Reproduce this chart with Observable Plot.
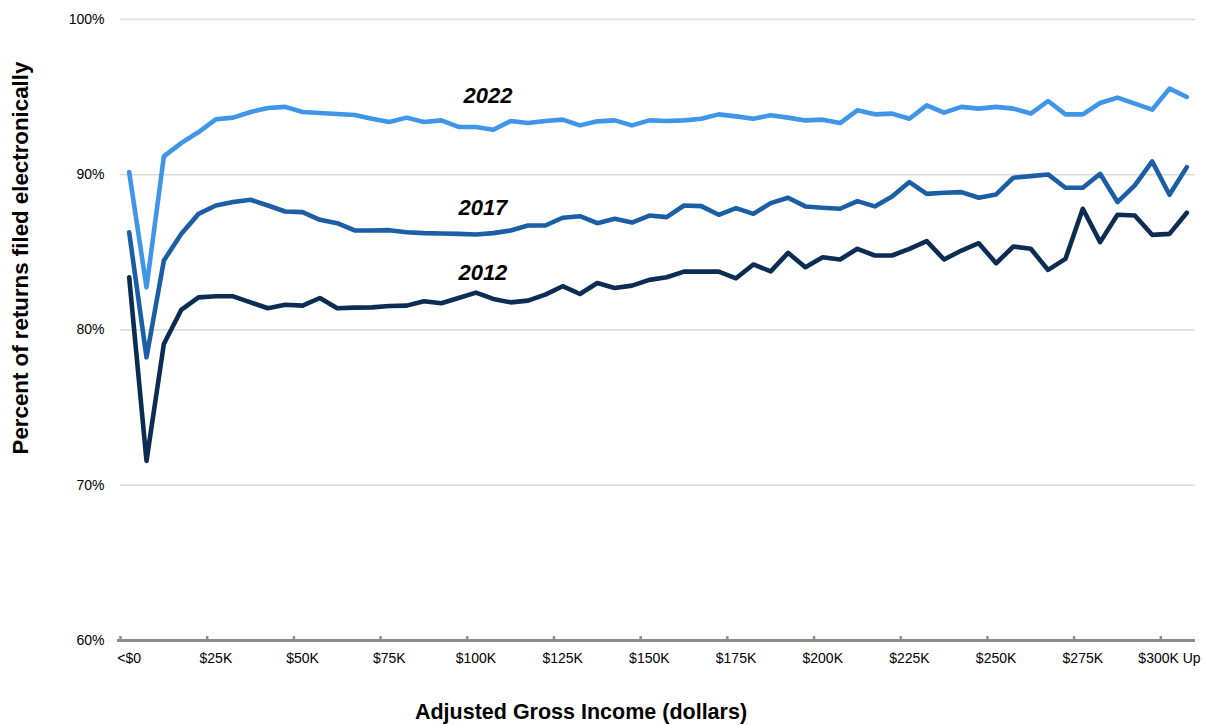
<!DOCTYPE html>
<html>
<head>
<meta charset="utf-8">
<script src="https://cdn.jsdelivr.net/npm/d3@7"></script>
<script src="https://cdn.jsdelivr.net/npm/@observablehq/plot@0.6"></script>
<style>
  html, body { margin: 0; padding: 0; background: #fff; }
  #chart svg { display: block; }
</style>
</head>
<body>
<div id="chart"></div>
<script>
// Income categories: 62 buckets (index 0 = "<$0", last = "$300K Up" region)
const categoryIndex = d3.range(62);
const tickIndex = [0, 5, 10, 15, 20, 25, 30, 35, 40, 45, 50, 55, 60];
const tickLabels = ["<$0", "$25K", "$50K", "$75K", "$100K", "$125K", "$150K", "$175K", "$200K", "$225K", "$250K", "$275K", "$300K Up"];
const yTicks = [60, 70, 80, 90, 100];

const years = ["2012", "2017", "2022"];
const colors = ["#0b2c53", "#1b5ea6", "#3f95e8"];

const y2012 = [83.4, 71.57, 79.1, 81.29, 82.1, 82.17, 82.17, 81.78, 81.4, 81.63, 81.57,
  82.06, 81.4, 81.44, 81.46, 81.55, 81.57, 81.85, 81.72, 82.06, 82.41,
  82.0, 81.78, 81.89, 82.28, 82.82, 82.32, 83.03, 82.71, 82.86, 83.23,
  83.4, 83.76, 83.76, 83.76, 83.33, 84.22, 83.78, 84.97, 84.04, 84.69,
  84.54, 85.23, 84.8, 84.8, 85.23, 85.72, 84.54, 85.12, 85.59, 84.3,
  85.38, 85.23, 83.87, 84.58, 87.81, 85.66, 87.42, 87.38, 86.13, 86.19, 87.55];

const y2017 = [86.3, 78.24, 84.47, 86.19, 87.48, 88.02, 88.24, 88.39, 88.02, 87.63, 87.59,
  87.1, 86.88, 86.41, 86.41, 86.43, 86.3, 86.24, 86.22, 86.19, 86.15,
  86.24, 86.41, 86.73, 86.73, 87.23, 87.33, 86.88, 87.16, 86.92, 87.37,
  87.27, 88.02, 87.98, 87.42, 87.85, 87.48, 88.17, 88.52, 87.96, 87.87,
  87.81, 88.3, 87.96, 88.6, 89.53, 88.77, 88.84, 88.88, 88.52, 88.73,
  89.81, 89.91, 90.02, 89.16, 89.16, 90.06, 88.24, 89.31, 90.86, 88.71, 90.49];

const y2022 = [90.17, 82.75, 91.18, 92.04, 92.75, 93.57, 93.68, 94.04, 94.3, 94.37, 94.04,
  93.98, 93.91, 93.85, 93.61, 93.4, 93.68, 93.4, 93.5, 93.08, 93.08,
  92.9, 93.46, 93.33, 93.46, 93.55, 93.18, 93.44, 93.5, 93.18, 93.5,
  93.46, 93.5, 93.61, 93.89, 93.76, 93.61, 93.83, 93.68, 93.5, 93.55,
  93.33, 94.15, 93.89, 93.94, 93.61, 94.47, 94.0, 94.37, 94.26, 94.37,
  94.26, 93.94, 94.75, 93.89, 93.89, 94.62, 94.97, 94.58, 94.19, 95.55, 95.01];

// Series label anchor positions (category index, percent)
const labelYears = ["2022", "2017", "2012"];
const labelIndex = [20.7, 20.4, 20.4];
const labelValue = [95.1, 87.85, 83.65];

const seriesValues = {"2012": y2012, "2017": y2017, "2022": y2022};
const rows = years.flatMap(year => categoryIndex.map(i => ({year, i, v: seriesValues[year][i]})));
const labels = labelYears.map((year, k) => ({year, i: labelIndex[k], v: labelValue[k]}));
const tickEdges = tickIndex.map(i => i - 0.5);

const chart = Plot.plot({
  width: 1207,
  height: 725,
  marginTop: 19,
  marginBottom: 85,
  marginLeft: 120,
  marginRight: 12,
  style: {fontFamily: "'Liberation Sans', Arial, sans-serif", fontSize: "14px", color: "#000", background: "#fff"},
  x: {domain: [-0.5, 61.5], ticks: tickIndex, tickFormat: d => tickLabels[tickIndex.indexOf(d)], tickSize: 0, tickPadding: 13, label: null},
  y: {domain: [60, 100], ticks: yTicks, tickFormat: d => d + "%", tickSize: 0, tickPadding: 16, label: null},
  color: {domain: years, range: colors},
  marks: [
    Plot.ruleY(yTicks.slice(1), {stroke: "#d9d9d9", strokeWidth: 1.3}),
    Plot.line(rows, {x: "i", y: "v", z: "year", stroke: "year", strokeWidth: 4.6}),
    Plot.ruleY([60], {stroke: "#8c8c8c", strokeWidth: 3, insetLeft: -3}),
    Plot.ruleX(tickEdges, {y1: 60, y2: 60.25, stroke: "#8c8c8c", strokeWidth: 2.5}),
    Plot.text(labels, {x: "i", y: "v", text: "year", fontWeight: "bold", fontStyle: "italic", fontSize: 22, fill: "#000"})
  ]
});

document.getElementById("chart").appendChild(chart);

const svg = d3.select(chart);
svg.append("text")
  .attr("transform", "translate(28,258) rotate(-90)")
  .attr("text-anchor", "middle")
  .attr("font-family", "'Liberation Sans', Arial, sans-serif")
  .attr("font-weight", "bold")
  .attr("font-size", 22.3)
  .attr("fill", "#000")
  .text("Percent of returns filed electronically");
svg.append("text")
  .attr("x", 581)
  .attr("y", 719)
  .attr("text-anchor", "middle")
  .attr("font-family", "'Liberation Sans', Arial, sans-serif")
  .attr("font-weight", "bold")
  .attr("font-size", 21.5)
  .attr("fill", "#000")
  .text("Adjusted Gross Income (dollars)");
</script>
</body>
</html>
